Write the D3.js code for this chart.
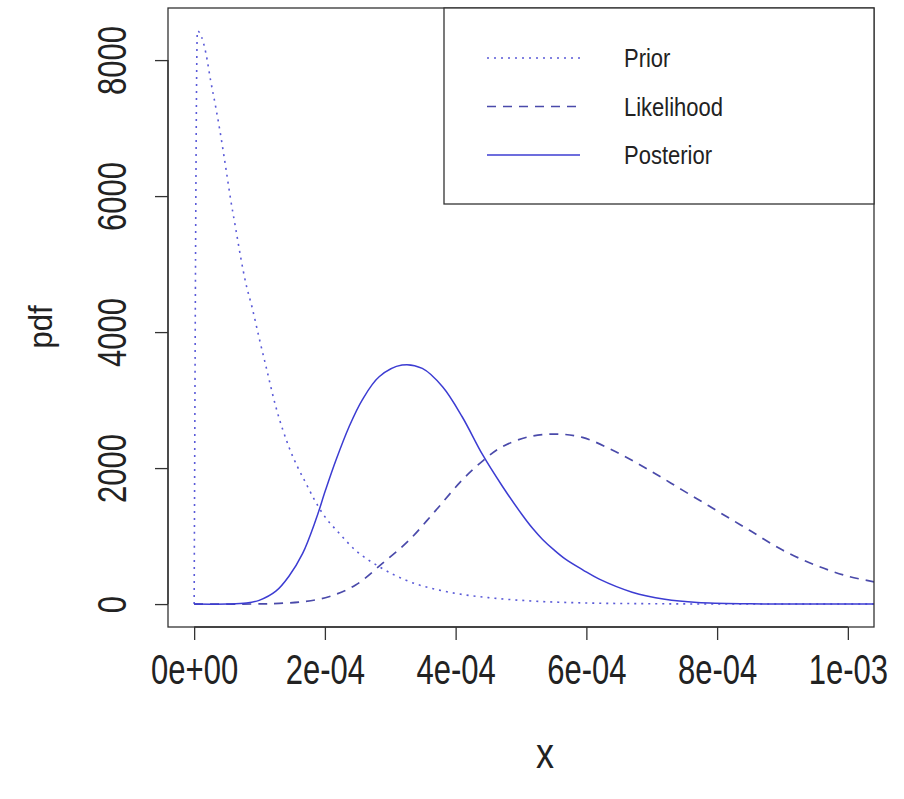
<!DOCTYPE html>
<html>
<head>
<meta charset="utf-8">
<script src="https://cdn.jsdelivr.net/npm/d3@7"></script>
<style>
  html, body { margin: 0; padding: 0; background: #fff; }
  svg { display: block; }
  text { font-family: "Liberation Sans", Arial, sans-serif; fill: #222; }
</style>
</head>
<body>
<svg id="chart" width="904" height="799"></svg>
<script>
// ---- data ----
const priorX = [0, 0.000005, 0.000018, 0.000025, 0.000033, 0.000041, 0.000049, 0.000056, 0.000064, 0.000071, 0.000079, 0.000089, 0.000099, 0.00011, 0.000125, 0.000145, 0.000171, 0.000196, 0.000222, 0.000247, 0.000283, 0.000324, 0.000375, 0.0004, 0.00045, 0.0005, 0.00055, 0.0006, 0.0007, 0.0008, 0.0009, 0.001, 0.00105];
const priorY = [0, 8429, 8100, 7710, 7310, 6870, 6380, 5940, 5500, 5110, 4720, 4350, 3930, 3490, 2900, 2310, 1775, 1340, 1040, 790, 550, 350, 205, 157, 95, 55, 30, 16, 5, 1, 0, 0, 0];

const likeX = [0, 0.0001, 0.00013, 0.000166, 0.000206, 0.000247, 0.000288, 0.000329, 0.00037, 0.00041, 0.000443, 0.000471, 0.000512, 0.000553, 0.000594, 0.000645, 0.000696, 0.000747, 0.000798, 0.000849, 0.0009, 0.00095, 0.001, 0.00105];
const likeY = [0, 2, 10, 34, 108, 280, 598, 941, 1382, 1824, 2118, 2313, 2461, 2500, 2451, 2240, 1971, 1676, 1382, 1088, 794, 574, 410, 310];

const postX = [0, 0.00005, 0.00008, 0.0000994, 0.000125, 0.000145, 0.000166, 0.000186, 0.000201, 0.000217, 0.000237, 0.000257, 0.000283, 0.000318, 0.000349, 0.00038, 0.00041, 0.000441, 0.000471, 0.000502, 0.000518, 0.000533, 0.00055, 0.000568, 0.000595, 0.000619, 0.00067, 0.00072, 0.00077, 0.00085, 0.00095, 0.00105];
const postY = [0, 1, 15, 55, 190, 410, 745, 1235, 1676, 2118, 2608, 3000, 3343, 3515, 3466, 3196, 2755, 2200, 1740, 1310, 1110, 950, 800, 660, 500, 370, 175, 70, 22, 3, 0, 0];

const xTicks = [0, 0.0002, 0.0004, 0.0006, 0.0008, 0.001];
const xTickLabels = ["0e+00", "2e-04", "4e-04", "6e-04", "8e-04", "1e-03"];
const yTicks = [0, 2000, 4000, 6000, 8000];
const yTickLabels = ["0", "2000", "4000", "6000", "8000"];
const xLimits = [0, 0.001];

const legendLabels = ["Prior", "Likelihood", "Posterior"];
const xLabel = "x";
const yLabel = "pdf";

// ---- layout ----
const box = { left: 168, right: 874, top: 8, bottom: 627 };
const svg = d3.select("#chart");

const xPad = 0.04 * (xLimits[1] - xLimits[0]);
const x = d3.scaleLinear()
  .domain([xLimits[0] - xPad, xLimits[1] + xPad])
  .range([box.left, box.right]);

const yMax = d3.max(priorY);
const yPad = 0.04 * yMax;
const y = d3.scaleLinear()
  .domain([0 - yPad, yMax + yPad])
  .range([box.bottom, box.top]);

svg.append("defs").append("clipPath").attr("id", "clip")
  .append("rect")
  .attr("x", box.left).attr("y", box.top)
  .attr("width", box.right - box.left).attr("height", box.bottom - box.top);

const series = [
  { name: legendLabels[0], xs: priorX, ys: priorY, dash: "2,5", color: "#5a5ad8", width: 1.6, curve: d3.curveMonotoneX },
  { name: legendLabels[1], xs: likeX, ys: likeY, dash: "9,7", color: "#4a4aaa", width: 1.7, curve: d3.curveCatmullRom.alpha(0.5) },
  { name: legendLabels[2], xs: postX, ys: postY, dash: null, color: "#3c3cd2", width: 1.5, curve: d3.curveCatmullRom.alpha(0.5) }
];

const plot = svg.append("g").attr("clip-path", "url(#clip)");
series.forEach(s => {
  const line = d3.line()
    .x(d => x(d[0]))
    .y(d => y(Math.max(0, d[1])))
    .curve(s.curve);
  plot.append("path")
    .datum(s.xs.map((v, i) => [v, s.ys[i]]))
    .attr("fill", "none")
    .attr("stroke", s.color)
    .attr("stroke-width", s.width)
    .attr("stroke-dasharray", s.dash)
    .attr("d", line);
});

// ---- axes ----
const axisColor = "#333";
const tickFont = 31;
const xAxis = d3.axisBottom(x)
  .tickValues(xTicks)
  .tickFormat((d, i) => xTickLabels[i])
  .tickSize(13);
const gx = svg.append("g")
  .attr("transform", `translate(0,${box.bottom})`)
  .call(xAxis);
gx.select(".domain").attr("d", `M${x(xTicks[0])},0H${x(xTicks[xTicks.length - 1])}`)
  .attr("stroke", axisColor).attr("stroke-width", 1.3);
gx.selectAll(".tick line").attr("stroke", axisColor).attr("stroke-width", 1.3);
gx.selectAll(".tick text")
  .attr("font-size", tickFont)
  .attr("font-family", "'Liberation Sans', Arial, sans-serif")
  .attr("fill", "#222")
  .attr("y", null).attr("dy", null)
  .attr("dominant-baseline", "central")
  .attr("transform", "translate(0,42) scale(1,1.4)");

const yAxis = d3.axisLeft(y)
  .tickValues(yTicks)
  .tickFormat((d, i) => yTickLabels[i])
  .tickSize(13);
const gy = svg.append("g")
  .attr("transform", `translate(${box.left},0)`)
  .call(yAxis);
gy.select(".domain").attr("d", `M0,${y(yTicks[0])}V${y(yTicks[yTicks.length - 1])}`)
  .attr("stroke", axisColor).attr("stroke-width", 1.3);
gy.selectAll(".tick line").attr("stroke", axisColor).attr("stroke-width", 1.3);
gy.selectAll(".tick text")
  .attr("font-size", tickFont)
  .attr("font-family", "'Liberation Sans', Arial, sans-serif")
  .attr("fill", "#222")
  .attr("text-anchor", "middle")
  .attr("dy", null)
  .attr("x", null)
  .attr("dominant-baseline", "central")
  .attr("transform", "translate(-56,0) rotate(-90) scale(1,1.32)");

// ---- box ----
svg.append("rect")
  .attr("x", box.left).attr("y", box.top)
  .attr("width", box.right - box.left).attr("height", box.bottom - box.top)
  .attr("fill", "none").attr("stroke", axisColor).attr("stroke-width", 1.3);

// ---- axis titles ----
svg.append("text")
  .attr("transform", `translate(545,753) scale(1,1.2)`)
  .attr("text-anchor", "middle")
  .attr("dominant-baseline", "central")
  .attr("font-size", 36)
  .text(xLabel);

svg.append("text")
  .attr("transform", `translate(40,327) rotate(-90) scale(1,1.1)`)
  .attr("text-anchor", "middle")
  .attr("dominant-baseline", "central")
  .attr("font-size", 31)
  .text(yLabel);

// ---- legend ----
const legend = { left: 444, right: 874, top: 8, bottom: 204 };
svg.append("rect")
  .attr("x", legend.left).attr("y", legend.top)
  .attr("width", legend.right - legend.left).attr("height", legend.bottom - legend.top)
  .attr("fill", "#fff").attr("stroke", axisColor).attr("stroke-width", 1.3);

const legendRowY = d3.scalePoint().domain(legendLabels).range([58, 155]);
series.forEach(s => {
  const ly = legendRowY(s.name);
  svg.append("line")
    .attr("x1", 487).attr("x2", 580).attr("y1", ly).attr("y2", ly)
    .attr("stroke", s.color).attr("stroke-width", s.width)
    .attr("stroke-dasharray", s.dash);
  svg.append("text")
    .attr("transform", `translate(624,${ly}) scale(1,1.2)`)
    .attr("dominant-baseline", "central")
    .attr("font-size", 22)
    .text(s.name);
});
</script>
</body>
</html>
